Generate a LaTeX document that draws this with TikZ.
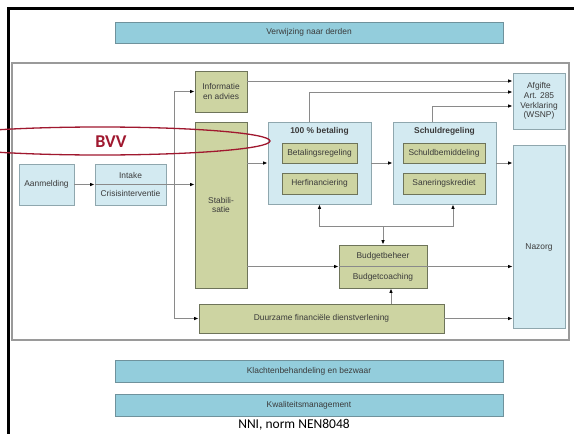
\documentclass[tikz,border=0pt]{standalone}
\usepackage{fontspec}
\setmainfont{Liberation Sans}
\newfontfamily\calfont{Carlito}
\usetikzlibrary{arrows.meta}
\definecolor{lblue}{HTML}{D3EAF1}
\definecolor{lbord}{HTML}{8FA7AE}
\definecolor{mblue}{HTML}{93CDDC}
\definecolor{mbord}{HTML}{6F929C}
\definecolor{lgreen}{HTML}{CDD4A2}
\definecolor{gbord}{HTML}{6E745A}
\definecolor{lgray}{HTML}{8A8A8A}
\definecolor{fgray}{HTML}{9A9A9A}
\definecolor{txt}{HTML}{3A3A3A}
\definecolor{bvvred}{HTML}{A0182F}
\newcommand\diagfont{\fontsize{8.4}{9.8}\selectfont}
\tikzset{
  bluebox/.style={draw=lbord, fill=lblue, line width=0.9pt, inner sep=1pt, align=center, font=\diagfont, text=txt},
  greenbox/.style={draw=gbord, fill=lgreen, line width=0.9pt, inner sep=1pt, align=center, font=\diagfont, text=txt},
  barbox/.style={draw=mbord, fill=mblue, line width=0.9pt, inner sep=1pt, align=center, font=\diagfont, text=txt},
  conn/.style={draw=lgray, line width=0.8pt, -{Latex[length=4.5pt,width=3.6pt,color=black]}},
  plain/.style={draw=lgray, line width=0.8pt},
  lbl/.style={font=\diagfont, text=txt, inner sep=0pt}
}
\begin{document}
\begin{tikzpicture}[x=1pt,y=-1pt]
\useasboundingbox (0,0) rectangle (574,434);
\clip (0,0) rectangle (574,434);
\fill[white] (0,0) rectangle (574,434);
% outer black frame
\draw[line width=2.6pt] (8.5,440) -- (8.5,8.5) -- (580,8.5);
% bars
\node[barbox, minimum width=388pt, minimum height=21pt] (verw) at (309,32.5) {Verwijzing naar derden};
\node[barbox, minimum width=388pt, minimum height=22pt] (klacht) at (309,371) {Klachtenbehandeling en bezwaar};
\node[barbox, minimum width=388pt, minimum height=22pt] (kwal) at (309,405) {Kwaliteitsmanagement};
\node[font=\calfont\fontsize{13.5}{15}\selectfont, inner sep=0pt] (nni) at (294,425) {NNI, norm NEN8048};
% gray frame
\node[draw=fgray, line width=1.4pt, minimum width=557pt, minimum height=277pt, inner sep=0pt] (frame) at (290.5,201.5) {};
% boxes
\node[bluebox, minimum width=55pt, minimum height=41pt] (aanm) at (46.5,184.5) {Aanmelding};
\node[bluebox, minimum width=71pt, minimum height=41pt] (intake) at (130.5,184.5) {Intake\\[9pt]Crisisinterventie};
\node[greenbox, minimum width=52pt, minimum height=41pt] (info) at (221,91.5) {Informatie\\en advies};
\node[greenbox, minimum width=52pt, minimum height=166pt] (stab) at (221,205) {Stabili-\\satie};
\node[bluebox, minimum width=103pt, minimum height=82pt] (betaal) at (319.5,163) {};
\node[lbl, font=\diagfont\bfseries] (betaalt) at (319.5,131.5) {100 \% betaling};
\node[greenbox, minimum width=75pt, minimum height=20pt] (betr) at (319.5,153) {Betalingsregeling};
\node[greenbox, minimum width=75pt, minimum height=21pt] (herf) at (319.5,183.5) {Herfinanciering};
\node[bluebox, minimum width=103pt, minimum height=82pt] (schuld) at (444.5,163) {};
\node[lbl, font=\diagfont\bfseries] (schuldt) at (444.5,131.5) {Schuldregeling};
\node[greenbox, minimum width=82pt, minimum height=20pt] (sbem) at (444,153) {Schuldbemiddeling};
\node[greenbox, minimum width=82pt, minimum height=21pt] (sank) at (444,183.5) {Saneringskrediet};
\node[bluebox, minimum width=52pt, minimum height=56pt] (afg) at (539,101) {Afgifte\\Art. 285\\Verklaring\\(WSNP)};
\node[bluebox, minimum width=52pt, minimum height=183pt] (nazorg) at (539,236.5) {};
\node[lbl] (nazorgt) at (539,247) {Nazorg};
\node[greenbox, minimum width=88pt, minimum height=43pt] (budget) at (383,266.5) {Budgetbeheer\\[11pt]Budgetcoaching};
\node[greenbox, minimum width=245pt, minimum height=29pt] (duurz) at (321.5,318.5) {Duurzame financi\"ele dienstverlening};
% connectors
\coordinate (j) at (174,184.5);
\coordinate (bj) at (383,226);
\draw[conn] (aanm.east) -- (intake.west);
\draw[conn] (intake.west) -- (stab.west |- intake.west);
\draw[conn] (j) |- (info.west);
\draw[conn] (j) |- (duurz.west);
\draw[conn] ([yshift=10.5pt]info.east) -- ([yshift=10.5pt]info.east -| afg.west);
\draw[conn] ([xshift=-10.5pt]betaal.north) |- ([yshift=9pt]afg.west);
\draw[conn] ([xshift=-12.5pt]schuld.north) |- ([yshift=-5pt]afg.west);
\draw[conn] (stab.east |- betaal.west) -- (betaal.west);
\draw[conn] (betaal.east) -- (schuld.west);
\draw[conn] (schuld.east) -- (nazorg.west |- schuld.east);
\draw[conn] (stab.east |- budget.west) -- (budget.west);
\draw[plain] (budget.west) -- (budget.east);
\draw[conn] (budget.east) -- (nazorg.west |- budget.east);
\draw[conn] (duurz.east) -- (nazorg.west |- duurz.east);
\draw[conn] ([xshift=8pt]budget.south |- duurz.north) -- ([xshift=8pt]budget.south);
\draw[conn] (bj) -- (budget.north);
\draw[conn] (bj) -| (betaal.south);
\draw[conn] (bj) -| ([xshift=8.5pt]schuld.south);
% BVV ellipse
\draw[bvvred, line width=1.3pt] (100,141) ellipse [x radius=170pt, y radius=14pt];
\node[font=\calfont\bfseries\fontsize{18}{20}\selectfont, text=bvvred, inner sep=0pt] (bvv) at (111,142) {BVV};
\end{tikzpicture}
\end{document}
